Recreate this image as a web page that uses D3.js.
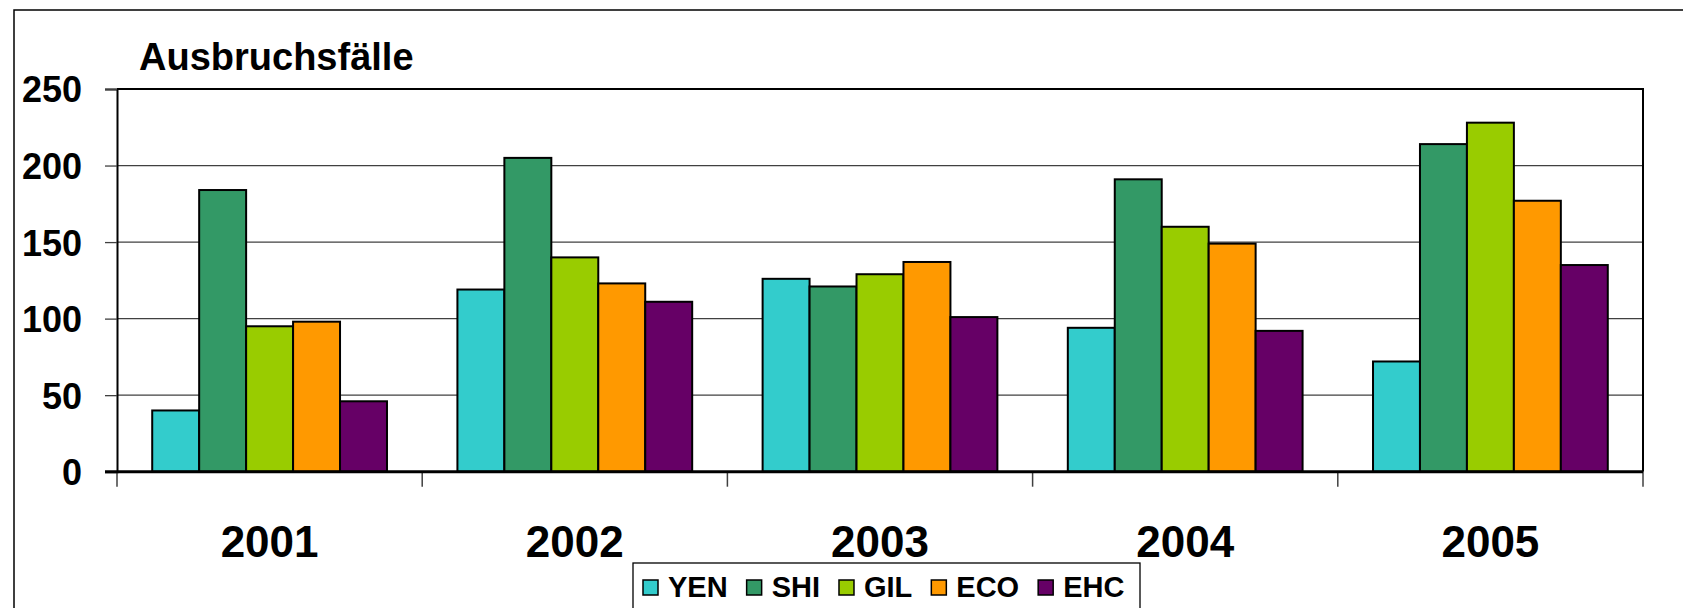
<!DOCTYPE html>
<html>
<head>
<meta charset="utf-8">
<script src="https://cdn.jsdelivr.net/npm/d3@7"></script>
<style>
  html, body { margin: 0; padding: 0; background: #fff; }
  svg { display: block; }
  text { font-family: "Liberation Sans", Arial, sans-serif; font-weight: bold; fill: #000; }
</style>
</head>
<body>
<svg id="chart" width="1683" height="608"></svg>
<script>
const categories = ["2001", "2002", "2003", "2004", "2005"];
const seriesNames = ["YEN", "SHI", "GIL", "ECO", "EHC"];
const YEN = [40, 119, 126, 94, 72];
const SHI = [184, 205, 121, 191, 214];
const GIL = [95, 140, 129, 160, 228];
const ECO = [98, 123, 137, 149, 177];
const EHC = [46, 111, 101, 92, 135];
const seriesColors = ["#33CCCC", "#339966", "#99CC00", "#FF9900", "#660066"];
const yTicks = [0, 50, 100, 150, 200, 250];
const yTitle = "Ausbruchsfälle";

const seriesValues = [YEN, SHI, GIL, ECO, EHC];

const svg = d3.select("#chart");
const W = 1683, H = 608;
const plot = { left: 117, right: 1643, top: 89, bottom: 471.7 };

// outer frame
svg.append("path")
  .attr("d", `M14,${H + 5} L14,10 L${W + 5},10`)
  .attr("fill", "none").attr("stroke", "#000").attr("stroke-width", 1.5);

const x0 = d3.scaleBand().domain(categories).range([plot.left, plot.right]).paddingInner(0).paddingOuter(0);
const x1 = d3.scaleBand().domain(seriesNames).range([0, x0.bandwidth()]).paddingInner(0).paddingOuter(0.75);
const y = d3.scaleLinear().domain([0, 250]).range([plot.bottom, plot.top]);

// gridlines
svg.append("g").selectAll("line").data(yTicks.filter(t => t > 0 && t < 250)).join("line")
  .attr("x1", plot.left).attr("x2", plot.right)
  .attr("y1", d => y(d)).attr("y2", d => y(d))
  .attr("stroke", "#404040").attr("stroke-width", 1.3);

// plot border (top & right)
svg.append("path")
  .attr("d", `M${plot.left},${y(250)} L${plot.right},${y(250)} L${plot.right},${plot.bottom}`)
  .attr("fill", "none").attr("stroke", "#000").attr("stroke-width", 2);

// bars
const groups = svg.append("g").selectAll("g").data(categories).join("g")
  .attr("transform", d => `translate(${x0(d)},0)`);
groups.selectAll("rect")
  .data((c, ci) => seriesNames.map((s, si) => ({ s, si, v: seriesValues[si][ci] })))
  .join("rect")
  .attr("x", d => x1(d.s))
  .attr("width", x1.bandwidth())
  .attr("y", d => y(d.v))
  .attr("height", d => y(0) - y(d.v))
  .attr("fill", d => seriesColors[d.si])
  .attr("stroke", "#000").attr("stroke-width", 2);

// y axis
const yAxis = d3.axisLeft(y).tickValues(yTicks).tickSize(12).tickPadding(23);
const gy = svg.append("g").attr("transform", `translate(${plot.left},0)`).call(yAxis);
gy.select(".domain").attr("stroke", "#000").attr("stroke-width", 2);
gy.selectAll(".tick line").attr("stroke", "#404040").attr("stroke-width", 1.3);
gy.selectAll(".tick text")
  .style("font-family", '"Liberation Sans", Arial, sans-serif')
  .style("font-weight", "bold").attr("font-size", 36).attr("fill", "#000").attr("dy", "0.36em");

// x axis
const boundaries = categories.map(c => x0(c)).concat([plot.right]);
svg.append("g").selectAll("line").data(boundaries).join("line")
  .attr("x1", d => d).attr("x2", d => d)
  .attr("y1", plot.bottom).attr("y2", plot.bottom + 15)
  .attr("stroke", "#404040").attr("stroke-width", 1.5);
svg.append("line")
  .attr("x1", plot.left - 12).attr("x2", plot.right)
  .attr("y1", plot.bottom).attr("y2", plot.bottom)
  .attr("stroke", "#000").attr("stroke-width", 3);
svg.append("g").selectAll("text").data(categories).join("text")
  .attr("x", d => x0(d) + x0.bandwidth() / 2)
  .attr("y", 556.7)
  .attr("text-anchor", "middle")
  .attr("font-size", 44)
  .text(d => d);

// title
svg.append("text").attr("x", 139).attr("y", 70).attr("font-size", 38).text(yTitle);

// legend
const legend = svg.append("g");
const legendBox = legend.append("rect")
  .attr("x", 633).attr("y", 563).attr("width", 507).attr("height", 60)
  .attr("fill", "#fff").attr("stroke", "#000").attr("stroke-width", 1.3);
let lx = 643;
seriesNames.forEach((s, i) => {
  legend.append("rect")
    .attr("x", lx).attr("y", 580).attr("width", 15).attr("height", 15)
    .attr("fill", seriesColors[i]).attr("stroke", "#000").attr("stroke-width", 1.5);
  const t = legend.append("text")
    .attr("x", lx + 25).attr("y", 597).attr("font-size", 29).text(s);
  const w = t.node().getComputedTextLength();
  lx = lx + 25 + w + 19;
});
</script>
</body>
</html>
